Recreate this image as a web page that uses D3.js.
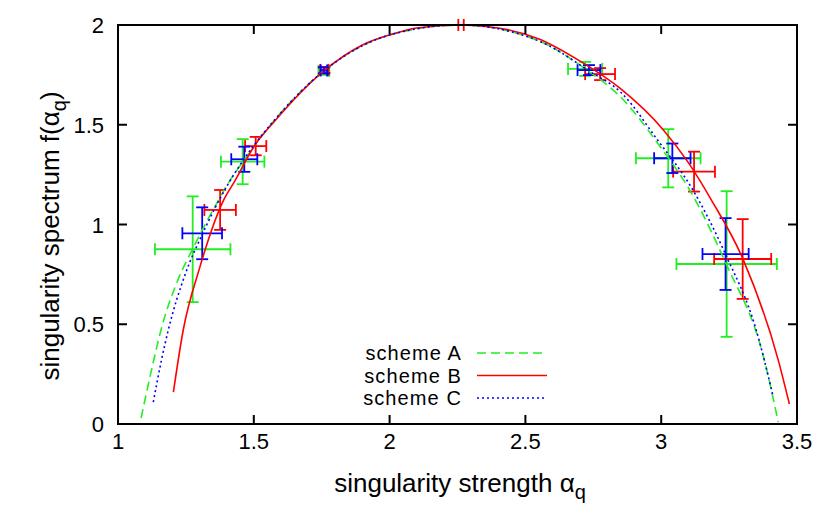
<!DOCTYPE html>
<html><head><meta charset="utf-8">
<script src="https://cdn.jsdelivr.net/npm/d3@7"></script>
<style>body{margin:0;background:#fff}svg{display:block}text{font-family:"Liberation Sans",Arial,sans-serif;fill:#000}</style>
</head><body><svg id="c" width="830" height="521"></svg>
<script>
// ---- data ----
const xTicks = [1, 1.5, 2, 2.5, 3, 3.5];
const xTickLabels = ["1", "1.5", "2", "2.5", "3", "3.5"];
const yTicks = [0, 0.5, 1, 1.5, 2];
const yTickLabels = ["0", "0.5", "1", "1.5", "2"];
const seriesNames = ["scheme A", "scheme B", "scheme C"];

// fitted spectra (alpha, f)
const curveAalpha = [1.085,1.12,1.16,1.22,1.276,1.369,1.412,1.46,1.58,1.758,2.0,2.26,2.55,2.72,2.855,2.996,3.106,3.24,3.376,3.431];
const curveAf     = [0.03,0.25,0.48,0.72,0.88,1.12,1.22,1.315,1.53,1.77,1.95,2.0,1.92,1.78,1.633,1.39,1.17,0.80,0.34,0.01];
const curveBalpha = [1.204,1.24,1.30,1.388,1.431,1.50,1.578,1.758,1.90,2.0,2.10,2.26,2.40,2.55,2.70,2.848,3.008,3.10,3.186,3.30,3.431,3.472];
const curveBf     = [0.16,0.47,0.78,1.12,1.22,1.39,1.52,1.77,1.90,1.95,1.985,2.0,1.985,1.93,1.82,1.683,1.474,1.31,1.12,0.83,0.32,0.10];
const curveCalpha = [1.13,1.16,1.185,1.25,1.31,1.40,1.465,1.58,1.758,2.0,2.26,2.55,2.734,2.855,2.983,3.118,3.237,3.35,3.41];
const curveCf     = [0.11,0.32,0.47,0.76,0.95,1.19,1.33,1.53,1.77,1.95,2.0,1.92,1.77,1.658,1.43,1.17,0.85,0.47,0.15];

// measured points with errors
const ptsAalpha = [1.275,1.459,1.758,2.72,3.026,3.241];
const ptsAf     = [0.876,1.315,1.77,1.78,1.332,0.802];
const ptsAdx    = [0.139,0.08,0.02,0.063,0.119,0.185];
const ptsAdf    = [0.265,0.113,0.02,0.035,0.146,0.365];
const ptsBalpha = [1.376,1.507,1.76,2.263,2.775,3.121,3.30];
const ptsBf     = [1.073,1.393,1.775,2.0,1.754,1.265,0.827];
const ptsBdx    = [0.058,0.039,0.015,0.01,0.055,0.077,0.105];
const ptsBdf    = [0.10,0.046,0.015,0,0.03,0.10,0.20];
const ptsCalpha = [1.31,1.465,1.758,2.734,3.041,3.237];
const ptsCf     = [0.956,1.327,1.772,1.774,1.332,0.852];
const ptsCdx    = [0.073,0.048,0.012,0.042,0.067,0.085];
const ptsCdf    = [0.13,0.063,0.015,0.025,0.074,0.18];

// ---- drawing ----
const svg = d3.select("#c");
const L = 118, R = 797, T = 25, B = 424;
const x = d3.scaleLinear().domain([1, 3.5]).range([L, R]);
const y = d3.scaleLinear().domain([0, 2]).range([B, T]);
const colors = ["#22ee22", "#ff0000", "#0000ff"];
const dashes = ["9,5", null, "2,3"];

const gPlot = svg.append("g");
const cap = 6;
function drawErr(al, f, dx, df, col) {
  const g = gPlot.append("g").attr("stroke", col).attr("stroke-width", 1.8).attr("fill", "none");
  al.forEach((a, i) => {
    const cx = x(a), cy = y(f[i]);
    const x0 = x(a - dx[i]), x1 = x(a + dx[i]);
    const y0 = y(f[i] + df[i]), y1 = y(f[i] - df[i]);
    if (dx[i] > 0) {
      g.append("line").attr("x1", x0).attr("x2", x1).attr("y1", cy).attr("y2", cy);
      g.append("line").attr("x1", x0).attr("x2", x0).attr("y1", cy - cap).attr("y2", cy + cap);
      g.append("line").attr("x1", x1).attr("x2", x1).attr("y1", cy - cap).attr("y2", cy + cap);
    }
    if (df[i] > 0) {
      g.append("line").attr("x1", cx).attr("x2", cx).attr("y1", y0).attr("y2", y1);
      g.append("line").attr("x1", cx - cap).attr("x2", cx + cap).attr("y1", y0).attr("y2", y0);
      g.append("line").attr("x1", cx - cap).attr("x2", cx + cap).attr("y1", y1).attr("y2", y1);
    }
  });
}
drawErr(ptsAalpha, ptsAf, ptsAdx, ptsAdf, colors[0]);
drawErr(ptsBalpha, ptsBf, ptsBdx, ptsBdf, colors[1]);
drawErr(ptsCalpha, ptsCf, ptsCdx, ptsCdf, colors[2]);

const line = d3.line().x(d => x(d[0])).y(d => y(d[1])).curve(d3.curveMonotoneX);
const curves = [
  d3.zip(curveAalpha, curveAf),
  d3.zip(curveBalpha, curveBf),
  d3.zip(curveCalpha, curveCf)
];
curves.forEach((c, i) => {
  gPlot.append("path").attr("d", line(c)).attr("fill", "none")
    .attr("stroke", colors[i]).attr("stroke-width", 1.6)
    .attr("stroke-dasharray", dashes[i]);
});

// frame and ticks
const ax = svg.append("g").attr("stroke", "#000").attr("stroke-width", 2);
ax.append("rect").attr("x", L).attr("y", T).attr("width", R - L).attr("height", B - T).attr("fill", "none");
const tl = 9;
xTicks.forEach(t => {
  ax.append("line").attr("x1", x(t)).attr("x2", x(t)).attr("y1", B).attr("y2", B - tl);
  ax.append("line").attr("x1", x(t)).attr("x2", x(t)).attr("y1", T).attr("y2", T + tl);
});
yTicks.forEach(t => {
  ax.append("line").attr("x1", L).attr("x2", L + tl).attr("y1", y(t)).attr("y2", y(t));
  ax.append("line").attr("x1", R).attr("x2", R - tl).attr("y1", y(t)).attr("y2", y(t));
});
xTicks.forEach((t, i) => {
  svg.append("text").attr("x", x(t)).attr("y", 449).attr("text-anchor", "middle")
    .attr("font-size", 22).text(xTickLabels[i]);
});
yTicks.forEach((t, i) => {
  svg.append("text").attr("x", 104).attr("y", y(t) + 8).attr("text-anchor", "end")
    .attr("font-size", 22).text(yTickLabels[i]);
});

// axis titles
const xt = svg.append("text").attr("x", 460).attr("y", 492).attr("text-anchor", "middle").attr("font-size", 26);
xt.append("tspan").text("singularity strength α");
xt.append("tspan").attr("font-size", 20).attr("dy", 7).text("q");
const yt = svg.append("text").attr("transform", "translate(59,236) rotate(-90)").attr("text-anchor", "middle").attr("font-size", 26);
yt.append("tspan").text("singularity spectrum f(α");
yt.append("tspan").attr("font-size", 20).attr("dy", 7).text("q");
yt.append("tspan").attr("dy", -7).text(")");

// legend
const legY = [353, 375.5, 398];
seriesNames.forEach((n, i) => {
  svg.append("text").attr("x", 462).attr("y", legY[i] + 7).attr("text-anchor", "end")
    .attr("font-size", 20).attr("letter-spacing", 1.1).text(n);
  svg.append("line").attr("x1", 477).attr("x2", 547).attr("y1", legY[i]).attr("y2", legY[i])
    .attr("stroke", colors[i]).attr("stroke-width", 1.6).attr("stroke-dasharray", dashes[i]);
});
</script></body></html>
